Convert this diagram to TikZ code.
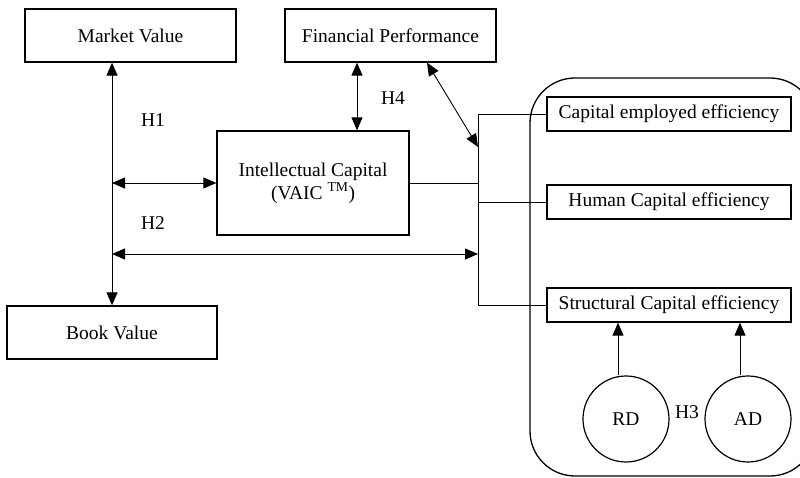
\documentclass[tikz,border=0pt]{standalone}
\usepackage{fontspec}
\setmainfont{Liberation Serif}
\usetikzlibrary{arrows.meta}

\begin{document}
\begin{tikzpicture}[x=1pt, y=-1pt,
  font=\fontsize{19.5}{23}\selectfont,
  box/.style={draw, line width=1.3pt, inner sep=0pt, align=center},
  ratio/.style={box, minimum width=244pt, minimum height=34pt},
  driver/.style={draw, circle, line width=1.2pt, minimum size=86pt, inner sep=0pt},
  conn/.style={line width=0.9pt},
  both/.style={conn, {Triangle[length=13pt,width=11pt]}-{Triangle[length=13pt,width=11pt]}},
  one/.style={conn, -{Triangle[length=13pt,width=11pt]}}]
\useasboundingbox (0,0) rectangle (800,478);
\draw [line width=1.3pt, rounded corners=45pt] (530,78) rectangle (815,476); % VAIC parts
\node [box, minimum width=211pt, minimum height=53pt] (mv) at (130.5,35.5) {Market Value};
\node [box, minimum width=211pt, minimum height=53pt] (fp) at (390.5,35.5) {Financial Performance};
\node [box, minimum width=210pt, minimum height=53pt] (bv) at (112,332.5) {Book Value};
\node [box, minimum width=192pt, minimum height=104pt] (ic) at (313,183) {Intellectual Capital\\(VAIC \textsuperscript{TM})};
\node [ratio] (ce) at (669,114) {Capital employed efficiency};
\node [ratio] (hc) at (669,202) {Human Capital efficiency};
\node [ratio] (sc) at (669,305) {Structural Capital efficiency};
\node [driver] (rd) at (626,419) {RD};
\node [driver] (ad) at (748,419) {AD};
\coordinate (jn) at (478,200);
\coordinate (h2r) at (478,254);
\coordinate (h4b) at (478,147);
% bracket to the three ratios
\draw [conn] (ce.west) -- (ce.west -| jn) -- (sc.west -| jn) -- (sc.west);
\draw [conn] (hc.west) -- (hc.west -| jn);
\draw [conn] (ic.east) -- (ic.east -| jn);
% hypotheses
\draw [both] (bv.north |- mv.south) -- (bv.north);
\draw [both] (bv.north |- ic.west) -- (ic.west);
\draw [both] (bv.north |- h2r) -- (h2r);
\draw [both] ([xshift=-33.5pt]fp.south) -- ([xshift=-33.5pt]fp.south |- ic.north);
\draw [both] ([xshift=36.5pt]fp.south) -- (h4b);
\draw [one] ([xshift=-8pt]rd.north) -- ([xshift=-8pt]rd.north |- sc.south);
\draw [one] ([xshift=-8pt]ad.north) -- ([xshift=-8pt]ad.north |- sc.south);
\node (h1) at (153,120) {H1};
\node (h2) at (153,223) {H2};
\node (h4) at (393,98) {H4};
\node (h3) at (687,412) {H3};
\end{tikzpicture}
\end{document}
